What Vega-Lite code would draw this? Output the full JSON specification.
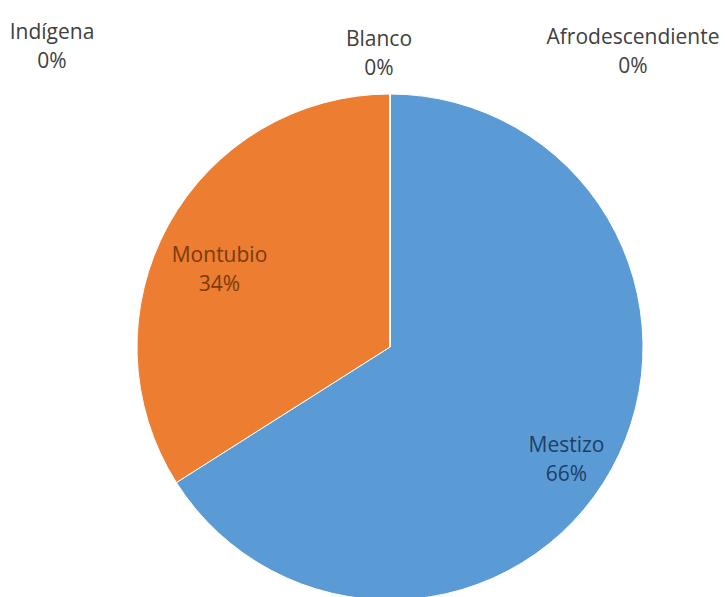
{
  "$schema": "https://vega.github.io/schema/vega-lite/v6.json",
  "width": 670,
  "height": 500,
  "padding": {"left": 55, "top": 97, "right": 0, "bottom": 0},
  "autosize": {"type": "none"},
  "background": "white",
  "config": {"view": {"stroke": null}, "text": {"font": "Open Sans", "fontSize": 21, "lineHeight": 29, "lineBreak": "\n", "align": "center", "baseline": "middle"}},
  "data": {"values": [
    {"categoria": "Mestizo", "porcentaje": 66},
    {"categoria": "Montubio", "porcentaje": 34},
    {"categoria": "Indígena", "porcentaje": 0},
    {"categoria": "Blanco", "porcentaje": 0},
    {"categoria": "Afrodescendiente", "porcentaje": 0}
  ]},
  "transform": [
    {"calculate": "datum.categoria + '\\n' + datum.porcentaje + '%'", "as": "etiqueta"}
  ],
  "layer": [
    {
      "mark": {"type": "arc", "outerRadius": 253, "stroke": "#ffffff", "strokeWidth": 1},
      "encoding": {
        "theta": {"field": "porcentaje", "type": "quantitative", "stack": true},
        "color": {
          "field": "categoria", "type": "nominal",
          "sort": ["Mestizo", "Montubio", "Indígena", "Blanco", "Afrodescendiente"],
          "scale": {"domain": ["Mestizo", "Montubio", "Indígena", "Blanco", "Afrodescendiente"], "range": ["#5B9BD5", "#ED7D31", "#A5A5A5", "#FFC000", "#4472C4"]},
          "legend": null
        }
      }
    },
    {
      "mark": {"type": "text", "radius": 198, "dx": 3, "dy": 4},
      "encoding": {
        "theta": {"field": "porcentaje", "type": "quantitative", "stack": true},
        "text": {"condition": {"test": "datum.porcentaje == 0", "value": ""}, "field": "etiqueta"},
        "color": {"condition": {"test": "datum.categoria == 'Mestizo'", "value": "#1E3F63"}, "value": "#7A3A0C"}
      }
    },
    {
      "transform": [{"filter": "datum.categoria == 'Indígena'"}],
      "mark": {"type": "text", "dx": -338, "dy": -314, "color": "#404040"},
      "encoding": {"text": {"field": "etiqueta"}}
    },
    {
      "transform": [{"filter": "datum.categoria == 'Blanco'"}],
      "mark": {"type": "text", "dx": -11, "dy": -307, "color": "#404040"},
      "encoding": {"text": {"field": "etiqueta"}}
    },
    {
      "transform": [{"filter": "datum.categoria == 'Afrodescendiente'"}],
      "mark": {"type": "text", "dx": 243, "dy": -309, "color": "#404040"},
      "encoding": {"text": {"field": "etiqueta"}}
    }
  ]
}
